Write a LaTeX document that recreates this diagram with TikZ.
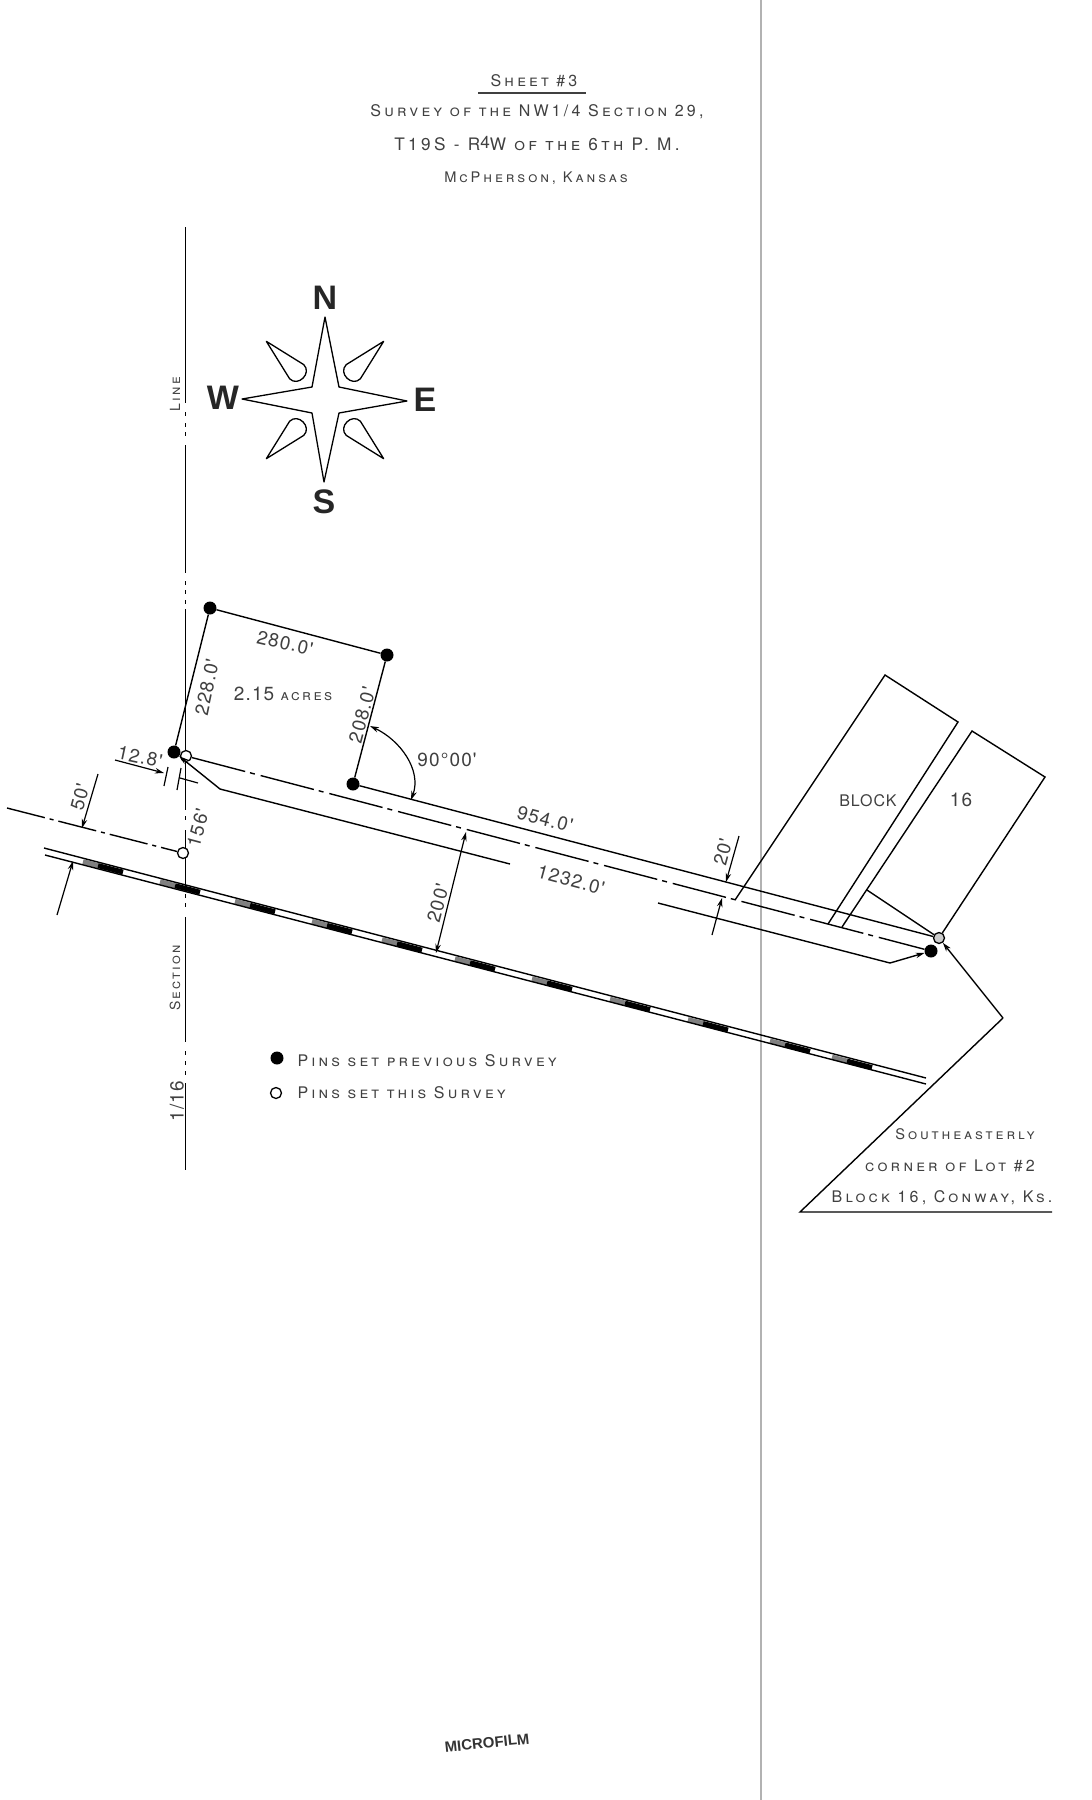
\documentclass[tikz,border=0pt]{standalone}
\usepackage{fontspec}
\newfontfamily\lettering[LetterSpace=20]{TeX Gyre Heros}
\newfontfamily\axisletter[LetterSpace=16]{TeX Gyre Heros}
\newfontfamily\digits[LetterSpace=6]{TeX Gyre Heros}
\newfontfamily\compassfont{Liberation Sans}
\usetikzlibrary{arrows.meta, positioning}
\definecolor{inkgray}{HTML}{404040}
\tikzset{
  survey/.style={line width=1.4pt, black},
  dimline/.style={line width=1.2pt, black},
  centerline/.style={survey, dash pattern=on 55pt off 5pt on 5pt off 6pt},
  shortcenter/.style={survey, dash pattern=on 39pt off 5pt on 4pt off 5pt},
  pinset/.style={circle, fill=black, inner sep=0pt, minimum size=13pt},
  pinnew/.style={circle, draw=black, line width=1.3pt, fill=white, inner sep=0pt, minimum size=11pt},
  smcaps/.style={inkgray, font=\lettering\scshape\fontsize{16}{18}\selectfont},
  axistext/.style={inkgray, font=\axisletter\scshape\fontsize{14}{16}\selectfont},
  dimtext/.style={inkgray, font=\digits\fontsize{19}{21}\selectfont},
  compassletter/.style={font=\compassfont\bfseries\fontsize{34}{36}\selectfont, text=black!85}
}
\begin{document}
\begin{tikzpicture}[x=1pt, y=-1pt, >={Stealth[length=9pt,width=5.5pt]}]
    \useasboundingbox (0,0) rectangle (1092,1800);
    \draw[gray!60, line width=1.5pt] (761,0) -- (761,1800);

    % title
    \node[smcaps] (sheet) at (534,81) {Sheet \#3};
    \node[smcaps] (title1) at (537,112) {Survey of the NW1/4 Section 29,};
    \node[smcaps, font=\lettering\scshape\fontsize{17.2}{19}\selectfont] (title2) at (537,144) {T19S - R\raisebox{2pt}{4}W of the 6th P. M.};
    \node[smcaps, font=\lettering\scshape\fontsize{14.6}{17}\selectfont] (title3) at (536,178) {McPherson, Kansas};
    \draw[inkgray, line width=1.6pt] (478,93) -- (586,93);

    % section line
    \foreach \ya/\yb in {227/403,412/416,423/427,432/436,445/573,581/585,590/594,600/604,
                         609/810,816/820,830/890,894/898,903/907,917/1042,1051/1055,1061/1065,1071/1075,1083/1170}
      \draw[survey] (185.5,\ya) -- (185.5,\yb);
    \node[axistext, rotate=90] (lineword) at (175,394) {Line};
    \node[axistext, rotate=90] (sectionword) at (175,978) {Section};
    \node[dimtext, rotate=90] (sixteenth) at (177,1101) {1/16};

    % compass
    \draw[line width=1.3pt, line join=round] (325,317) -- (339,387) -- (407,401) -- (339,413)
        -- (324,482) -- (312,413) -- (242,399) -- (312,387) -- cycle;
    \foreach \ang in {45,135,225,315}
      \draw[line width=1.3pt, line join=round, shift={(325,400)}, rotate=\ang]
        (83,0) -- (40,10) .. controls (28,10) and (28,-10) .. (40,-10) -- cycle;
    \node[compassletter] (north) at (325,298) {N};
    \node[compassletter] (south) at (324,502) {S};
    \node[compassletter] (west) at (223,398) {W};
    \node[compassletter] (east) at (425,400) {E};

    % pins
    \node[pinset] (pina) at (210,608) {};
    \node[pinset] (pinb) at (387,655) {};
    \node[pinset] (pinc) at (353,784) {};
    \node[pinset] (pind) at (174,752) {};
    \node[pinset] (pinh) at (931,951) {};
    \coordinate (westend) at (7,808);
    \coordinate (lowbend) at (220,789);
    \coordinate (lowbrk) at (510,864);
    \coordinate (lowres) at (658,903);
    \coordinate (lowend) at (890,963);

    % block 16
    \coordinate (blka) at (735,900);
    \coordinate (blkb) at (885,675);
    \coordinate (blkc) at (958,722);
    \coordinate (blkd) at (828,924);
    \coordinate (blke) at (842,927);
    \coordinate (blkf) at (972,731);
    \coordinate (blkg) at (1045,777);
    \coordinate (blkh) at (867,890);

    % road
    \coordinate (roadnw) at (44,848);
    \coordinate (roadne) at (926,1078);
    \coordinate (roadsw) at (45,855);
    \coordinate (roadse) at (926,1084);
    \foreach \xa in {83,160,235,312,382,455,532,610,688,770,832}{
      \draw[gray, line width=5pt] (\xa,{851.5+(\xa-44)*0.261}) -- (\xa+15,{851.5+(\xa+15-44)*0.261});
      \draw[black, line width=5pt] (\xa+15,{851.5+(\xa+15-44)*0.261}) -- (\xa+40,{851.5+(\xa+40-44)*0.261});
    }
    \draw[survey] (roadnw) -- (roadne);
    \draw[survey] (roadsw) -- (roadse);

    % these sit over the section line
    \node[pinnew] (pine) at (186,756) {};
    \node[pinnew] (pinf) at (183,853) {};
    \node[pinnew, fill=gray!40] (ping) at (939,938) {};

    \draw[survey] (pina) -- (pinb);
    \draw[survey] (pinb) -- (pinc);
    \draw[survey] (pina) -- (pind);
    \draw[survey] (pinc) -- (ping);
    \draw[centerline] (pine) -- (pinh);
    \draw[shortcenter] (westend) -- (pinf);
    \draw[survey, <-] (pind) -- (lowbend) -- (lowbrk);
    \draw[survey, ->] (lowres) -- (lowend) -- (pinh);

    \draw[survey] (blka) -- (blkb) -- (blkc) -- (blkd);
    \draw[survey] (blke) -- (blkf) -- (blkg) -- (ping);
    \draw[survey] (blkh) -- (ping);
    \node[dimtext, font=\digits\fontsize{16}{18}\selectfont] (blockword) at (868,801) {BLOCK};
    \node[dimtext] (blocknum) at (961,800) {16};

    % dimensions
    \node[dimtext, rotate=-13] (dimnorth) at (285,643) {280.0'};
    \node[dimtext, rotate=78] (dimwest) at (207,687) {228.0'};
    \node[dimtext, rotate=75] (dimeast) at (362,715) {208.0'};
    \node[dimtext] (area) at (283,694) {2.15 {\axisletter\scshape\fontsize{15}{16}\selectfont acres}};
    \node[dimtext] (angle) at (447,760) {90\textdegree 00'};
    \node[dimtext, rotate=-12] (offset) at (140,757) {12.8'};
    \node[dimtext, rotate=75] (fifty) at (80,797) {50'};
    \node[dimtext, rotate=75] (onefive) at (198,828) {156'};
    \node[dimtext, rotate=75] (twohundred) at (438,903) {200'};
    \node[dimtext, rotate=-15] (nine) at (545,819) {954.0'};
    \node[dimtext, rotate=-15] (twelve) at (571,880) {1232.0'};
    \node[dimtext, rotate=75] (twenty) at (723,852) {20'};

    \coordinate (anga) at (370,726);
    \coordinate (angb) at (411,800);
    \draw[dimline, <->] (anga) .. controls (400,740) and (422,770) .. (angb);
    \coordinate (ofsa) at (115,760);
    \coordinate (ofsb) at (164,773);
    \draw[dimline, ->] (ofsa) -- (ofsb);
    \draw[dimline] (168,767) -- (164,786);
    \draw[dimline] (181,768) -- (177,790);
    \draw[dimline] (180,778) -- (198,783);
    \draw[dimline, ->] (98,774) -- (82,828);
    \draw[dimline, ->] (57,915) -- (73,861);
    \draw[dimline, <->] (466,832) -- (436,953);
    \draw[dimline, ->] (739,836) -- (726,882);
    \draw[dimline, ->] (712,935) -- (722,898);

    % legend
    \node[pinset] (legset) at (277,1058) {};
    \node[pinnew] (legnew) at (276,1093) {};
    \node[smcaps, anchor=west] (legsettext) at (294,1061) {Pins set previous Survey};
    \node[smcaps, anchor=west] (legnewtext) at (294,1093) {Pins set this Survey};

    % corner note
    \coordinate (ldrfoot) at (800,1212);
    \coordinate (ldrend) at (1052,1212);
    \coordinate (ldrbend) at (1003,1018);
    \draw[survey] (ldrend) -- (ldrfoot) -- (ldrbend);
    \draw[survey, ->] (ldrbend) -- (ping);
    \node[smcaps, font=\lettering\scshape\fontsize{14.6}{17}\selectfont] (note1) at (965,1134) {Southeasterly};
    \node[smcaps] (note2) at (950,1166) {corner of Lot \#2};
    \node[smcaps] (note3) at (942,1198) {Block 16, Conway, Ks.};

    \node[rotate=6, text=black!80, font=\compassfont\bfseries\fontsize{15}{16}\selectfont] (stamp) at (487,1743) {MICROFILM};
\end{tikzpicture}
\end{document}
